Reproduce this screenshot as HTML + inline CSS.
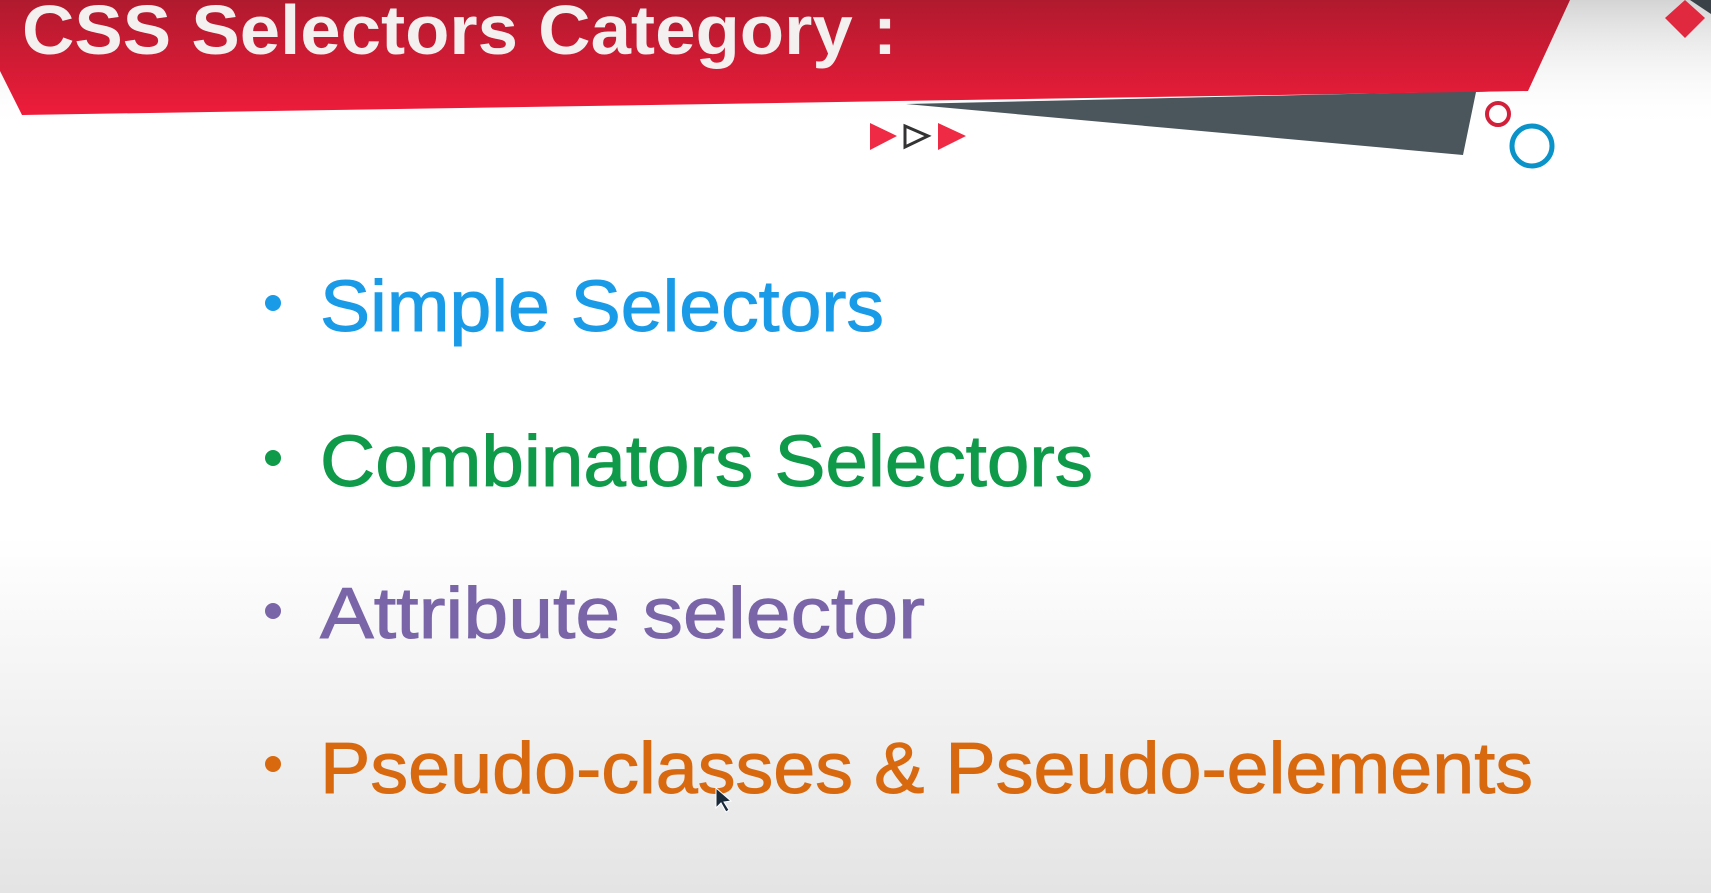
<!DOCTYPE html>
<html><head><meta charset="utf-8"><style>
html,body{margin:0;padding:0;width:1711px;height:893px;overflow:hidden;background:#fff}
svg{display:block}
text{font-family:"Liberation Sans",sans-serif}
</style></head><body>
<svg width="1711" height="893" viewBox="0 0 1711 893">
<defs>
<linearGradient id="bg" x1="0" y1="0" x2="0" y2="1">
<stop offset="0" stop-color="#ffffff"/><stop offset="0.6" stop-color="#ffffff"/><stop offset="1" stop-color="#e4e4e4"/>
</linearGradient>
<linearGradient id="red" x1="0" y1="0" x2="0" y2="1">
<stop offset="0" stop-color="#b01a2e"/><stop offset="1" stop-color="#ee1c3a"/>
</linearGradient>
<linearGradient id="tr" x1="0" y1="0" x2="0" y2="1">
<stop offset="0" stop-color="#d4d4d4"/><stop offset="1" stop-color="#ffffff" stop-opacity="0"/>
</linearGradient>
</defs>
<rect width="1711" height="893" fill="url(#bg)"/>
<rect x="0" y="0" width="1711" height="130" fill="url(#tr)"/>
<polygon points="906,104 1528,90 1476,92 1463,155" fill="#4a555c"/>
<polygon points="0,0 1570,0 1528,91 22,115 0,71" fill="url(#red)"/>
<polygon points="1690,0 1711,0 1711,14" fill="#3a4248"/>
<polygon points="1685,0 1705,18 1685,38 1665,18" fill="#e0283e"/>
<circle cx="1498" cy="114" r="11" fill="none" stroke="#d3203a" stroke-width="4"/>
<circle cx="1532" cy="146" r="20" fill="none" stroke="#0a93c8" stroke-width="5"/>
<polygon points="870,123 897,136 870,150" fill="#ee2a44"/>
<polygon points="905,126 928,136 905,147" fill="none" stroke="#333" stroke-width="3"/>
<polygon points="938,123 966,136 938,150" fill="#ee2a44"/>
<text x="22" y="54" font-size="70" font-weight="bold" fill="#f4f0f0" textLength="875" lengthAdjust="spacingAndGlyphs">CSS Selectors Category :</text>
<g font-size="72" stroke-width="1">
<circle cx="273" cy="303" r="8" fill="#1a9be8"/>
<text x="320" y="331" fill="#1a9be8" stroke="#1a9be8" textLength="564" lengthAdjust="spacingAndGlyphs">Simple Selectors</text>
<circle cx="273" cy="458" r="8" fill="#0f9a4a"/>
<text x="320" y="486" fill="#0f9a4a" stroke="#0f9a4a" textLength="773" lengthAdjust="spacingAndGlyphs">Combinators Selectors</text>
<circle cx="273" cy="611" r="8" fill="#7a65a8"/>
<text x="320" y="638" fill="#7a65a8" stroke="#7a65a8" textLength="605" lengthAdjust="spacingAndGlyphs">Attribute selector</text>
<circle cx="273" cy="764" r="8" fill="#d9690f"/>
<text x="320" y="793" fill="#d9690f" stroke="#d9690f" textLength="1213" lengthAdjust="spacingAndGlyphs">Pseudo-classes &amp; Pseudo-elements</text>
</g>
<polygon points="716,788 716,808 721,803 726,812 729,810 724,802 731,801" fill="#1b2a3a" stroke="#fff" stroke-width="1"/>
</svg>
</body></html>
